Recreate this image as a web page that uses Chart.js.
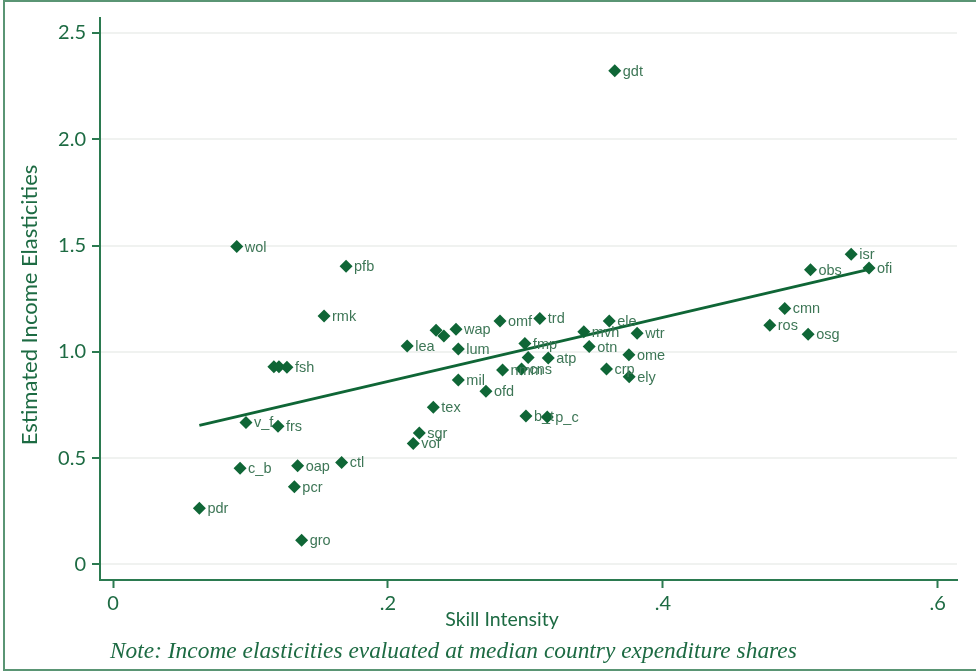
<!DOCTYPE html>
<html>
<head>
<meta charset="utf-8">
<script src="https://cdn.jsdelivr.net/npm/chart.js@4/dist/chart.umd.min.js"></script>
<style>
  body { margin: 0; background: #fff; }
  #wrap { position: relative; width: 976px; height: 672px; }
</style>
</head>
<body>
<div id="wrap"><canvas id="scatterChart" width="976" height="672"></canvas></div>
<script>
// sector codes (empty = label hidden under neighbours in the original)
const sectors = ['gdt', 'wol', 'pfb', 'rmk', 'lea', '', '', 'fsh', 'v_f', 'frs',
    'c_b', 'oap', 'ctl', 'pcr', 'pdr', 'gro', 'tex', 'sgr', 'vof', '',
    '', 'wap', 'lum', 'omf', 'trd', 'fmp', '', 'atp', 'nmm', 'cns',
    'ele', 'mvh', 'otn', 'wtr', 'ome', 'crp', 'ely', 'mil', 'ofd', 'b_t',
    'p_c', 'isr', 'obs', 'ofi', 'cmn', 'ros', 'osg'];
const skillIntensity = [0.365, 0.090, 0.1695, 0.1535, 0.214, 0.117, 0.1207, 0.1265, 0.0967, 0.120,
    0.0924, 0.1343, 0.1663, 0.1319, 0.0628, 0.1372, 0.233, 0.2228, 0.2184, 0.235,
    0.2407, 0.2495, 0.2512, 0.2815, 0.3105, 0.2996, 0.302, 0.3166, 0.2834, 0.2972,
    0.361, 0.3425, 0.3464, 0.3813, 0.3753, 0.359, 0.3755, 0.2512, 0.2713, 0.3004,
    0.3159, 0.537, 0.5074, 0.550, 0.4887, 0.4778, 0.5057];
const incomeElasticity = [2.322, 1.495, 1.402, 1.168, 1.028, 0.930, 0.930, 0.928, 0.668, 0.650,
    0.453, 0.464, 0.480, 0.366, 0.265, 0.114, 0.740, 0.618, 0.569, 1.101,
    1.075, 1.106, 1.013, 1.145, 1.157, 1.039, 0.973, 0.9705, 0.9145, 0.919,
    1.145, 1.095, 1.025, 1.087, 0.986, 0.919, 0.883, 0.8677, 0.8145, 0.6977,
    0.693, 1.459, 1.386, 1.394, 1.204, 1.125, 1.083];
// fitted line end points
const fitX = [0.0628, 0.550];
const fitY = [0.654, 1.388];
const xTicks = [0, 0.2, 0.4, 0.6];
const yTicks = [0, 0.5, 1.0, 1.5, 2.0, 2.5];

const GREEN = '#0f6636';
const AXIS_GREEN = '#2b7a50';
const TEXT_GREEN = '#1d6b43';

const pointLabels = {
    id: 'pointLabels',
    afterDatasetsDraw(chart) {
        const ctx = chart.ctx;
        const meta = chart.getDatasetMeta(1);
        ctx.save();
        ctx.font = '14.5px "Liberation Sans", Arial, sans-serif';
        ctx.fillStyle = '#3d7656';
        ctx.textBaseline = 'middle';
        meta.data.forEach((pt, i) => {
            if (sectors[i]) ctx.fillText(sectors[i], pt.x + 8, pt.y + 1);
        });
        ctx.restore();
    }
};

const frameAndTitles = {
    id: 'frameAndTitles',
    afterDraw(chart) {
        const ctx = chart.ctx;
        ctx.save();
        ctx.strokeStyle = '#5a957470';
        ctx.strokeStyle = '#5a9574';
        ctx.lineWidth = 2;
        ctx.beginPath();
        ctx.moveTo(976, 1); ctx.lineTo(4, 1); ctx.lineTo(4, 670); ctx.lineTo(976, 670);
        ctx.stroke();

        ctx.fillStyle = TEXT_GREEN;
        ctx.textAlign = 'center';
        ctx.textBaseline = 'middle';
        ctx.font = '19.5px Lato, sans-serif';
        ctx.fillText('Skill Intensity', 502, 620);
        ctx.save();
        ctx.translate(30, 305);
        ctx.rotate(-Math.PI / 2);
        ctx.font = '22px Lato, sans-serif';
        ctx.fillText('Estimated Income Elasticities', 0, 0);
        ctx.restore();

        ctx.textAlign = 'left';
        ctx.font = 'italic 23.4px "Liberation Serif", serif';
        ctx.fillText('Note: Income elasticities evaluated at median country expenditure shares', 110, 652);
        ctx.restore();
    }
};

new Chart(document.getElementById('scatterChart').getContext('2d'), {
    type: 'scatter',
    data: {
        datasets: [{
            type: 'line',
            data: fitX.map((x, i) => ({ x: x, y: fitY[i] })),
            borderColor: GREEN,
            borderWidth: 3,
            pointRadius: 0,
            fill: false,
            order: 0
        }, {
            data: skillIntensity.map((x, i) => ({ x: x, y: incomeElasticity[i] })),
            pointStyle: 'rectRot',
            pointRadius: 6.5,
            backgroundColor: GREEN,
            borderColor: GREEN,
            borderWidth: 0,
            order: 1
        }]
    },
    options: {
        responsive: false,
        devicePixelRatio: 1,
        animation: false,
        layout: { padding: { left: 0, top: 15, right: 19, bottom: 0 } },
        plugins: { legend: { display: false }, tooltip: { enabled: false } },
        scales: {
            x: {
                type: 'linear',
                min: -0.0095,
                max: 0.614,
                afterFit: scale => { scale.height = 92; },
                afterBuildTicks: scale => { scale.ticks = xTicks.map(v => ({ value: v })); },
                border: { color: AXIS_GREEN, width: 2 },
                grid: { drawOnChartArea: false, tickLength: 8, tickColor: AXIS_GREEN, tickWidth: 2 },
                ticks: {
                    color: TEXT_GREEN,
                    font: { family: 'Lato', size: 20 },
                    padding: 4,
                    callback: v => v === 0 ? '0' : String(v).replace(/^0/, '')
                }
            },
            y: {
                type: 'linear',
                min: -0.073,
                max: 2.57,
                afterFit: scale => { scale.width = 100; },
                afterBuildTicks: scale => { scale.ticks = yTicks.map(v => ({ value: v })); },
                border: { color: AXIS_GREEN, width: 2 },
                grid: { color: '#f0f2f0', lineWidth: 2, tickLength: 8, tickColor: AXIS_GREEN, tickWidth: 2 },
                ticks: {
                    color: TEXT_GREEN,
                    font: { family: 'Lato', size: 20 },
                    padding: 6,
                    callback: v => v === 0 ? '0' : v.toFixed(1)
                }
            }
        }
    },
    plugins: [pointLabels, frameAndTitles]
});
</script>
</body>
</html>
